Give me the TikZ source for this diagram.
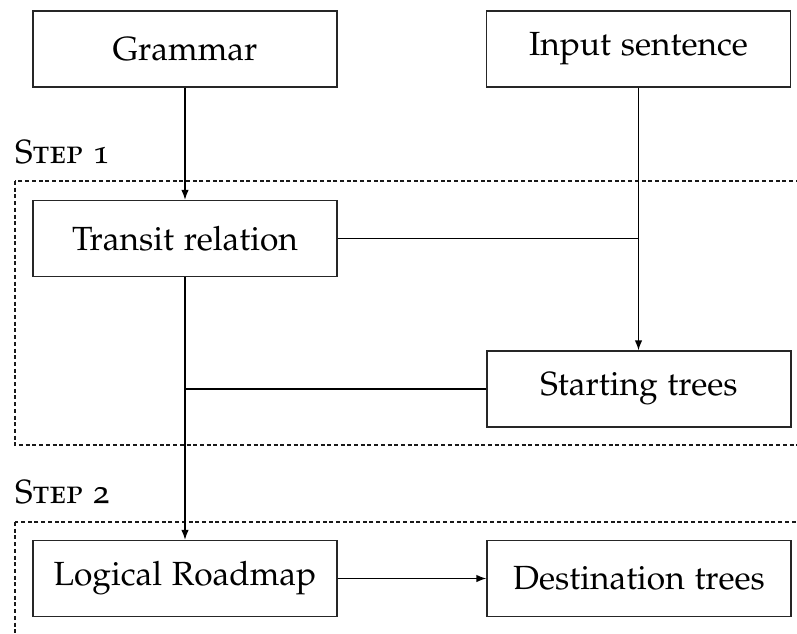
\documentclass[tikz,border=0pt]{standalone}
\usepackage[T1]{fontenc}
\usepackage[sc,osf]{mathpazo}
\usetikzlibrary{arrows.meta}
\tikzset{
  box/.style={draw=black!85, line width=1.3pt, minimum width=304pt, minimum height=76pt, inner sep=0pt, font=\fontsize{33.5}{40}\selectfont},
  conn/.style={line width=1.3pt, draw=black},
  arr/.style={conn, -{Latex[length=10pt,width=7.5pt]}},
  stepframe/.style={draw=black!90, line width=1.3pt, dash pattern=on 4pt off 2.7pt},
  steplabel/.style={anchor=base west, inner sep=0pt, font=\fontsize{33.5}{40}\selectfont}
}
\begin{document}
\begin{tikzpicture}[x=1pt,y=-1pt]
\useasboundingbox (0,0) rectangle (797,633);
\clip (0,0) rectangle (797,633);
% step frames
\draw[stepframe] (15,181) rectangle (820,445);
\draw[stepframe] (15,522) rectangle (820,660);
\node[steplabel] (s1) at (15,163) {\textsc{Step 1}};
\node[steplabel] (s2) at (15,503) {\textsc{Step 2}};
% boxes
\node[box] (gram) at (185,49) {Grammar};
\node[box] (inp) at (638.5,49) {Input sentence};
\node[box] (trans) at (185,238.5) {Transit relation};
\node[box] (start) at (639,389) {Starting trees};
\node[box] (logic) at (185,578.5) {Logical Roadmap};
\node[box] (dest) at (639,578.5) {Destination trees};
% connectors
\coordinate (jr) at (inp.south |- trans.east);
\coordinate (jl) at (trans.south |- start.west);
\draw[arr] (gram.south) -- (trans.north);
\draw[arr] (inp.south) -- (inp.south |- start.north);
\draw[conn] (trans.east) -- (jr);
\draw[arr] (trans.south) -- (logic.north);
\draw[conn] (start.west) -- (jl);
\draw[arr] (logic.east) -- (dest.west);
\end{tikzpicture}
\end{document}
